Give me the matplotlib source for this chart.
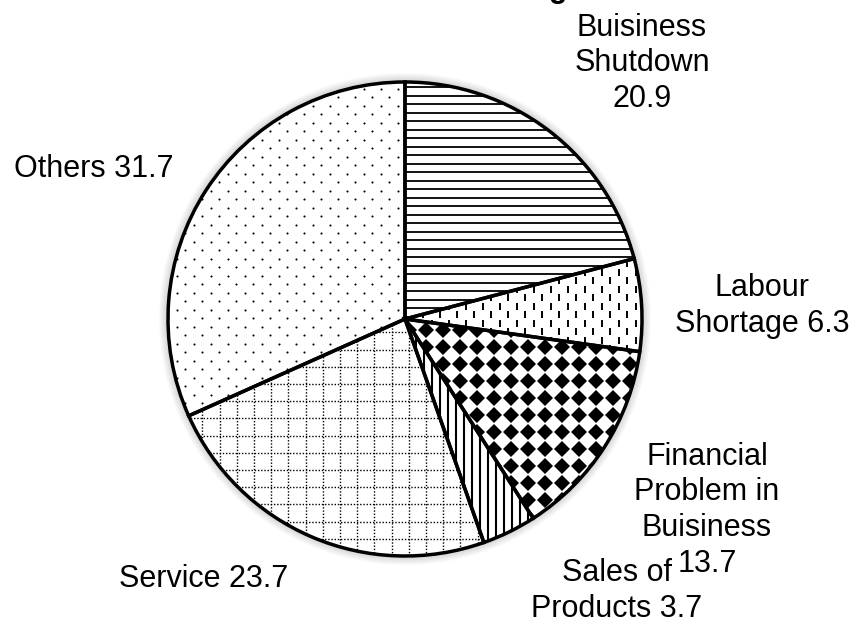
import numpy as np
import matplotlib
matplotlib.use("Agg")
import matplotlib.pyplot as plt
from matplotlib.collections import LineCollection
from matplotlib.patches import Circle

plt.rcParams["font.family"] = ["Liberation Sans", "DejaVu Sans"]

# Reasons and their shares (%)
reasons = ["Buisiness\nShutdown", "Labour\nShortage", "Financial\nProblem in\nBuisiness",
           "Sales of\nProducts", "Service", "Others"]
shares = [20.9, 6.3, 13.7, 3.7, 23.7, 31.7]
value_sep = ["\n", " ", "\n", " ", " ", " "]

W, H = 860, 623
CX, CY, R = 405, H - 319, 237

fig = plt.figure(figsize=(W / 100, H / 100), dpi=100)
ax = fig.add_axes([0, 0, 1, 1])

# soft outer shadow round the pie
for r in np.linspace(R, R + 9, 10):
    ax.add_patch(Circle((CX, CY), r, color="black", alpha=0.018, lw=0, zorder=0))

wedges, _ = ax.pie(shares, startangle=90, counterclock=False, center=(CX, CY),
                   radius=R, colors=["white"] * len(shares), frame=True,
                   wedgeprops=dict(linewidth=0, zorder=1))
ax.pie(shares, startangle=90, counterclock=False, center=(CX, CY), radius=R,
       colors=["none"] * len(shares), frame=True,
       wedgeprops=dict(linewidth=2.5, edgecolor="black", zorder=4))

x0, x1, y0, y1 = CX - R, CX + R, CY - R, CY + R


def add_segs(wedge, segs, lw, ls="-"):
    lc = LineCollection(segs, colors="black", linewidths=lw, linestyles=ls, zorder=2)
    lc.set_clip_path(wedge)
    ax.add_collection(lc)


def staggered(step_x, step_y):
    pts = []
    for i, y in enumerate(np.arange(y0, y1, step_y)):
        for x in np.arange(x0 + (i % 2) * step_x / 2, x1, step_x):
            pts.append((x, y))
    return pts


# Buisiness Shutdown: horizontal lines
add_segs(wedges[0], [[(x0, y), (x1, y)] for y in np.arange(y1 - 5, y0, -8.5)], 1.3)

# Labour Shortage: staggered short vertical dashes
add_segs(wedges[1], [[(x, y), (x, y + 7)] for x, y in staggered(17, 8.5)], 1.4)

# Financial Problem: diamond grid
gx, gy = np.meshgrid(np.arange(x0 + 3, x1, 17), np.arange(y0 + 5, y1, 17))
dm, = ax.plot(gx.ravel(), gy.ravel(), "D", color="black", ms=8.2, mew=0, zorder=2)
dm.set_clip_path(wedges[2])

# Sales of Products: vertical lines
add_segs(wedges[3], [[(x, y0), (x, y1)] for x in np.arange(x0, x1, 8)], 1.5)

# Service: dotted square grid
grid = [[(x, y0), (x, y1)] for x in np.arange(x0, x1, 17.2)]
grid += [[(x0, y), (x1, y)] for y in np.arange(y0, y1, 17.2)]
add_segs(wedges[4], grid, 1.0, ls=(0, (1, 1.3)))

# Others: staggered dots
dots = np.array(staggered(17, 8.5))
dt, = ax.plot(dots[:, 0], dots[:, 1], "o", color="black", ms=1.5, mew=0, zorder=2)
dt.set_clip_path(wedges[5])

# labels, anchored at the baseline of their last line (pixel coords from top)
label_pos = [(642, 107), (762, 332), (707, 572), (617, 617), (204, 587), (94, 177)]
for name, val, sep, (lx, ly) in zip(reasons, shares, value_sep, label_pos):
    ax.text(lx, H - ly, f"{name}{sep}{val}", ha="center", va="baseline",
            multialignment="center", fontsize=22, linespacing=1.25)

# chart title sits above the visible area
ax.text(568, H + 3, "Reasons of Buisiness Closing", ha="right", va="baseline",
        fontsize=22, fontweight="bold")

ax.set_xlim(0, W)
ax.set_ylim(0, H)
ax.set_aspect("auto")
ax.axis("off")

fig.savefig("out.png", dpi=100)
